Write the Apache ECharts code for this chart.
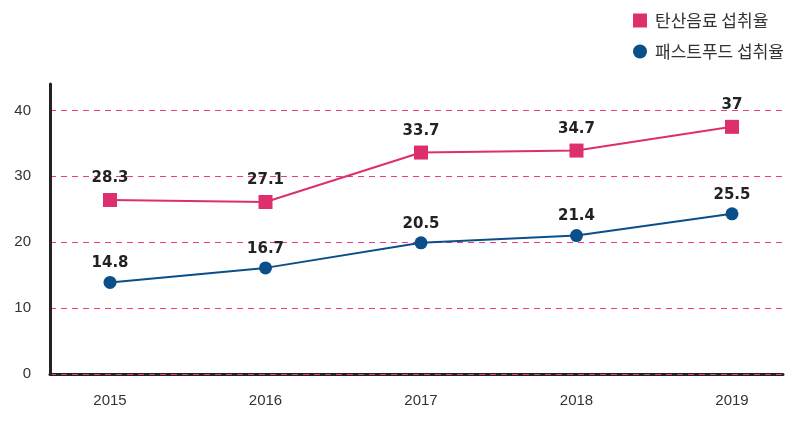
<!DOCTYPE html>
<html><head><meta charset="utf-8">
<script src="https://cdn.jsdelivr.net/npm/echarts@6/dist/echarts.min.js"></script>
<style>html,body{margin:0;padding:0;background:#fff}#c{width:800px;height:425px}</style>
</head><body><div id="c"></div>
<script>
const years = ['2015', '2016', '2017', '2018', '2019'];
const sodaName = '탄산음료 섭취율';
const fastName = '패스트푸드 섭취율';
// plotted positions
const sodaValues = [26.4, 26.1, 33.6, 33.9, 37.5];
const fastValues = [13.9, 16.1, 19.9, 21.0, 24.3];
// printed labels as shown in the picture
const sodaLabels = ['28.3', '27.1', '33.7', '34.7', '37'];
const fastLabels = ['14.8', '16.7', '20.5', '21.4', '25.5'];
const yTicks = [0, 10, 20, 30, 40];

const pink = '#dd2f6e';
const blue = '#0b4f8a';
const grid = '#ec3a8c';

const chart = echarts.init(document.getElementById('c'));
function mk(vals, labels) {
  return years.map((y, i) => ({ value: [Number(y), vals[i]], labelText: labels[i] }));
}
const isYear = v => Math.abs(v - Math.round(v)) < 1e-6 && years.includes(String(Math.round(v)));
chart.setOption({
  animation: false,
  textStyle: { fontFamily: 'Liberation Sans, Arial, sans-serif' },
  grid: { left: 50, right: 17, top: 84, bottom: 51 },
  legend: {
    orient: 'vertical', left: 633, top: 12, itemGap: 14, padding: 0,
    itemWidth: 14, itemHeight: 14,
    textStyle: { fontFamily: 'Noto Sans CJK KR', fontSize: 17, color: '#333', padding: [0, 0, 0, 3] },
    data: [
      { name: sodaName, icon: 'rect' },
      { name: fastName, icon: 'circle' }
    ]
  },
  xAxis: {
    type: 'value', min: 2014.614, max: 2019.328, splitNumber: 5, minInterval: 1, z: 1,
    axisLine: { show: true, lineStyle: { color: '#222', width: 3 } },
    axisTick: { show: false },
    splitLine: { show: false },
    axisLabel: {
      margin: 19, fontSize: 15, color: '#333', showMinLabel: false, showMaxLabel: false,
      formatter: v => isYear(v) ? String(Math.round(v)) : ''
    }
  },
  yAxis: {
    type: 'value', min: 0, max: 44, interval: 10, z: 3,
    axisLine: { show: true, lineStyle: { color: '#222', width: 3 } },
    axisTick: { show: false },
    axisLabel: {
      margin: 19, fontSize: 15, color: '#333',
      formatter: v => yTicks.includes(v) ? String(v) : ''
    },
    splitLine: {
      show: true,
      lineStyle: { type: [6, 5], width: 1.2, color: [grid, grid, grid, grid, grid, 'rgba(0,0,0,0)'] }
    }
  },
  series: [
    {
      name: sodaName, type: 'line', data: mk(sodaValues, sodaLabels),
      symbol: 'rect', symbolSize: 14, z: 5,
      itemStyle: { color: pink }, lineStyle: { color: pink, width: 2 },
      label: {
        show: true, position: 'top', distance: 7,
        formatter: p => p.data.labelText,
        fontFamily: 'DejaVu Sans', fontSize: 15, fontWeight: 'bold', color: '#222'
      }
    },
    {
      name: fastName, type: 'line', data: mk(fastValues, fastLabels),
      symbol: 'circle', symbolSize: 13, z: 5,
      itemStyle: { color: blue }, lineStyle: { color: blue, width: 2 },
      label: {
        show: true, position: 'top', distance: 5,
        formatter: p => p.data.labelText,
        fontFamily: 'DejaVu Sans', fontSize: 15, fontWeight: 'bold', color: '#222'
      }
    }
  ]
});
</script></body></html>
